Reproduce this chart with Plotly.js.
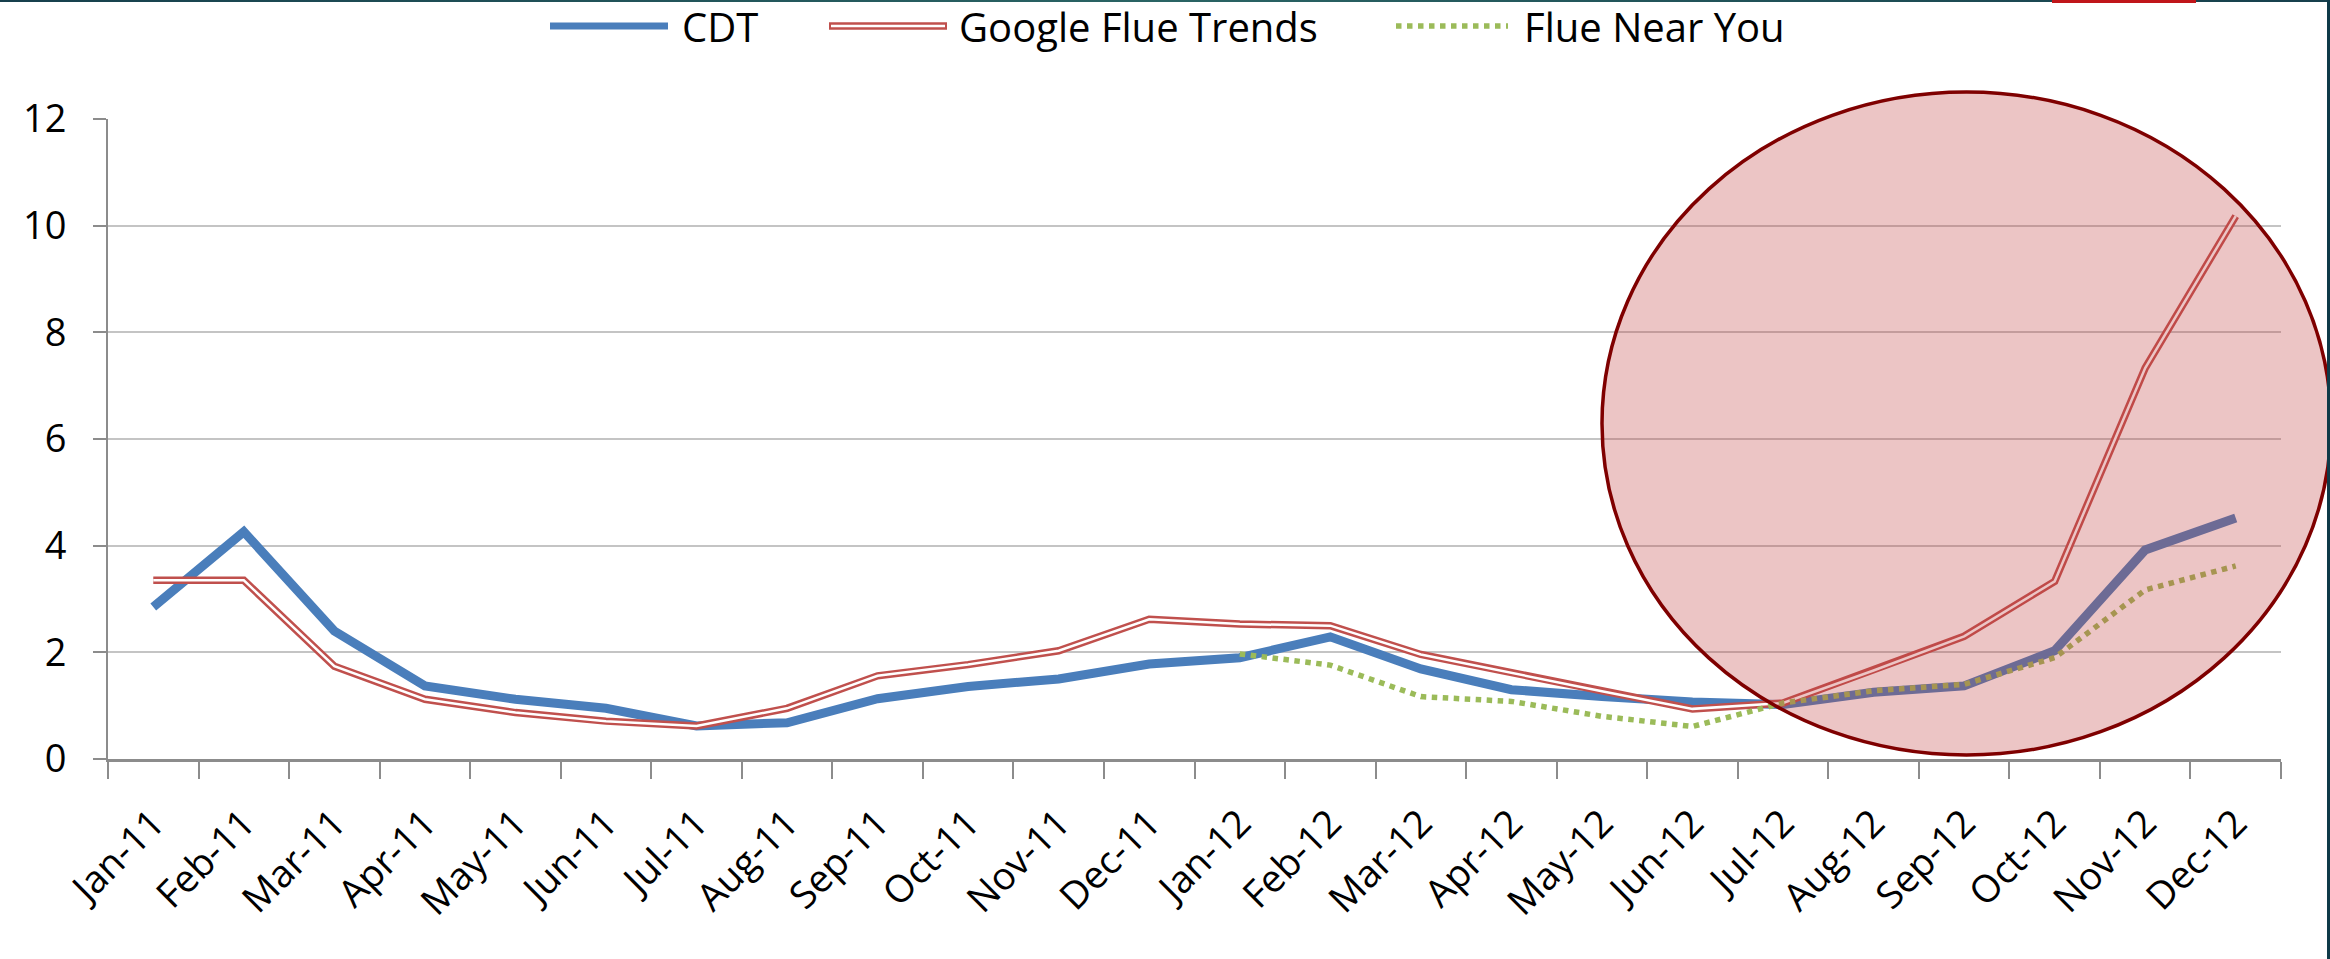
<!DOCTYPE html>
<html><head><meta charset="utf-8">
<script src="https://cdn.plot.ly/plotly-3.0.1.min.js"></script>
<style>
html,body{margin:0;padding:0;background:#fff;overflow:hidden}
#chart{width:2330px;height:959px}
.bar{position:absolute;z-index:10}
</style></head><body>
<div id="chart"></div>
<div class="bar" style="left:0;top:0;width:2330px;height:2px;background:linear-gradient(90deg,#163f4c,#2a6464 50%,#163f4c)"></div>
<div class="bar" style="left:2052px;top:0;width:144px;height:3px;background:#c0161a"></div>
<div class="bar" style="left:2327px;top:0;width:3px;height:959px;background:#0f3a48"></div>
<script>
var months = ['Jan-11','Feb-11','Mar-11','Apr-11','May-11','Jun-11','Jul-11','Aug-11','Sep-11','Oct-11','Nov-11','Dec-11',
              'Jan-12','Feb-12','Mar-12','Apr-12','May-12','Jun-12','Jul-12','Aug-12','Sep-12','Oct-12','Nov-12','Dec-12'];
var cdt = [2.85, 4.26, 2.40, 1.37, 1.12, 0.95, 0.62, 0.68, 1.13, 1.36, 1.50, 1.78,
           1.90, 2.29, 1.69, 1.30, 1.17, 1.07, 1.02, 1.25, 1.37, 2.03, 3.92, 4.52];
var googleFlu = [3.35, 3.35, 1.74, 1.12, 0.87, 0.71, 0.62, 0.95, 1.56, 1.77, 2.03, 2.62,
                 2.53, 2.50, 1.96, 1.61, 1.27, 0.94, 1.05, 1.66, 2.30, 3.33, 7.33, 10.18];
var fluNearYou = [null, null, null, null, null, null, null, null, null, null, null, null,
                  1.97, 1.76, 1.17, 1.08, 0.80, 0.61, 1.05, 1.28, 1.40, 1.90, 3.17, 3.62];
var seriesNames = ['CDT', 'Google Flue Trends', 'Flue Near You'];
var yTicks = [0, 2, 4, 6, 8, 10, 12];

var blue = '#4a7ebb', red = '#c0504d', green = '#9bbb59';
var FONT = '"Open Sans", "Noto Sans", sans-serif';

var traces = [
  {x: months, y: cdt, type: 'scatter', mode: 'lines', name: seriesNames[0],
   line: {color: blue, width: 9}, showlegend: false},
  {x: months, y: googleFlu, type: 'scatter', mode: 'lines', name: seriesNames[1],
   line: {color: red, width: 7.5}, showlegend: false},
  {x: months, y: googleFlu, type: 'scatter', mode: 'lines', name: seriesNames[1] + ' (inner)',
   line: {color: '#ffffff', width: 2.5}, showlegend: false, hoverinfo: 'skip'},
  {x: months, y: fluNearYou, type: 'scatter', mode: 'lines', name: seriesNames[2],
   line: {color: green, width: 5.5, dash: 'dot'}, showlegend: false, connectgaps: false}
];

// plot area in pixels: left 108, right 2281, top 119, bottom 759
var L = 108, R = 2281, T = 119, B = 759;
function px(xp){ return (xp - L) / (R - L); }
function py(yp){ return (B - yp) / (B - T); }

var legY = py(26);
var shapes = [
  {type: 'circle', xref: 'paper', yref: 'paper', layer: 'above',
   x0: px(1602), x1: px(2331), y0: py(755), y1: py(92),
   fillcolor: 'rgba(192,64,64,0.3)', line: {color: '#7f0000', width: 3.5}},
  {type: 'line', xref: 'paper', yref: 'paper', x0: px(550), x1: px(668), y0: legY, y1: legY,
   line: {color: blue, width: 7}},
  {type: 'line', xref: 'paper', yref: 'paper', x0: px(829), x1: px(947), y0: legY, y1: legY,
   line: {color: red, width: 7.5}},
  {type: 'line', xref: 'paper', yref: 'paper', x0: px(831), x1: px(945), y0: legY, y1: legY,
   line: {color: '#ffffff', width: 2.5}},
  {type: 'line', xref: 'paper', yref: 'paper', x0: px(1396), x1: px(1508), y0: legY, y1: legY,
   line: {color: green, width: 5.5, dash: 'dot'}}
];
var annotations = [
  {text: seriesNames[0], x: px(680), xref: 'paper', y: legY, yref: 'paper', xanchor: 'left', yanchor: 'middle', showarrow: false,
   font: {family: FONT, size: 40, color: '#000'}},
  {text: seriesNames[1], x: px(957), xref: 'paper', y: legY, yref: 'paper', xanchor: 'left', yanchor: 'middle', showarrow: false,
   font: {family: FONT, size: 40, color: '#000'}},
  {text: seriesNames[2], x: px(1522), xref: 'paper', y: legY, yref: 'paper', xanchor: 'left', yanchor: 'middle', showarrow: false,
   font: {family: FONT, size: 40, color: '#000'}}
];

var layout = {
  width: 2330, height: 959, autosize: false,
  margin: {l: L, r: 2330 - R, t: T, b: 959 - B, pad: 0},
  paper_bgcolor: '#ffffff', plot_bgcolor: '#ffffff',
  showlegend: false,
  font: {family: FONT, size: 38, color: '#000'},
  xaxis: {
    type: 'category', range: [-0.5, 23.5], fixedrange: true,
    tickangle: -45, tickson: 'boundaries', ticks: 'outside', ticklen: 17, tickwidth: 2, tickcolor: '#8c8c8c',
    showline: true, linecolor: '#8c8c8c', linewidth: 2.5, showgrid: false, zeroline: false,
    tickfont: {family: FONT, size: 38, color: '#000'}, ticklabelstandoff: 24
  },
  yaxis: {
    range: [0, 12], tickvals: yTicks, fixedrange: true,
    ticks: 'outside', ticklen: 13, tickwidth: 2, tickcolor: '#8c8c8c',
    showline: true, linecolor: '#8c8c8c', linewidth: 2,
    showgrid: true, gridcolor: '#c4c4c4', gridwidth: 2, zeroline: false,
    tickfont: {family: FONT, size: 38, color: '#000'}, ticklabelstandoff: 19
  },
  shapes: shapes,
  annotations: annotations
};

Plotly.newPlot('chart', traces, layout, {displayModeBar: false, staticPlot: true});
</script>
</body></html>
